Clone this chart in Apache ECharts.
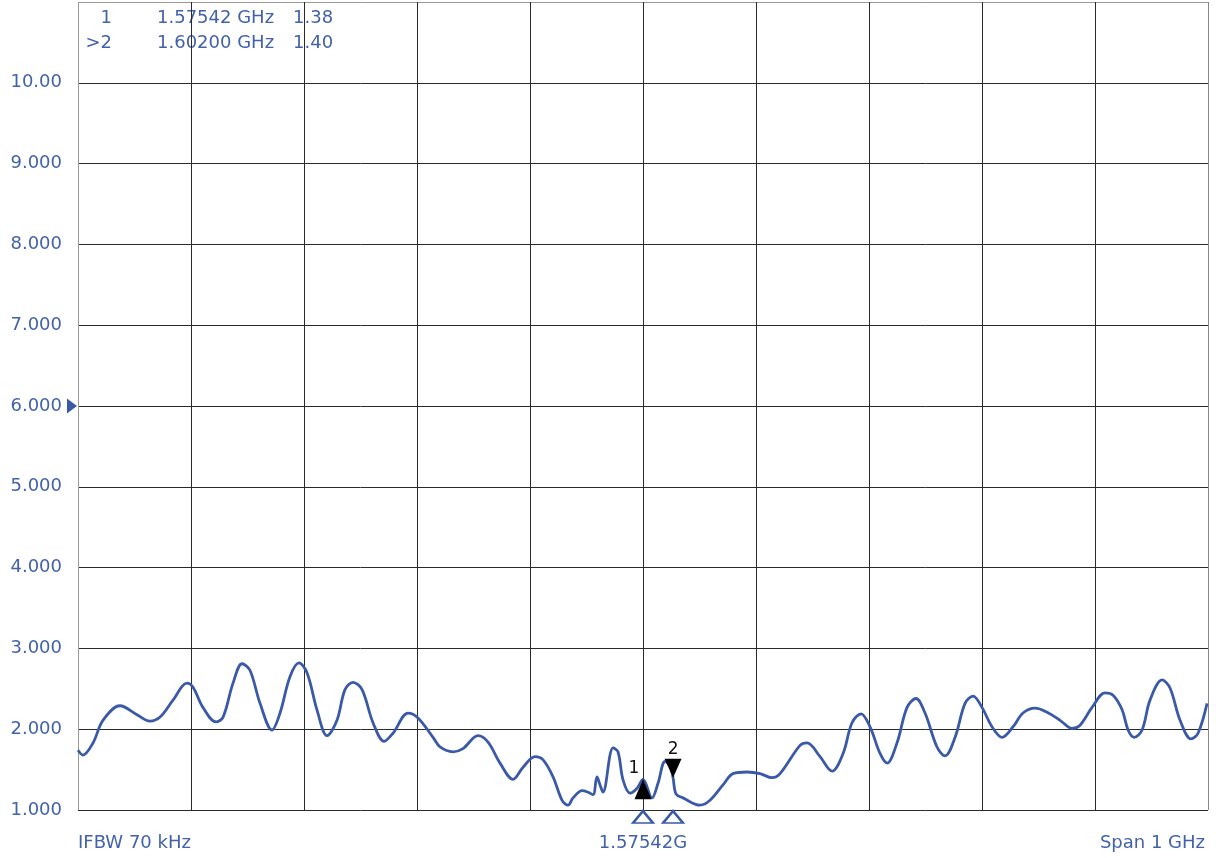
<!DOCTYPE html>
<html>
<head>
<meta charset="utf-8">
<script src="https://cdn.jsdelivr.net/npm/echarts@6/dist/echarts.min.js"></script>
<style>html,body{margin:0;padding:0;background:#fff;}#c{width:1216px;height:858px;}</style>
</head>
<body>
<div id="c"></div>
<script>
// Frequency (MHz) and VSWR values
const freqMHz = [1075.4,1079.8,1088.7,1097.5,1112.6,1127.6,1139.1,1148.0,1159.5,1171.9,1177.2,1186.0,1197.5,1203.8,1212.6,1220.6,1227.6,1236.5,1247.1,1254.2,1263.0,1271.0,1278.1,1286.9,1295.8,1304.6,1311.7,1318.8,1326.8,1336.5,1346.3,1354.2,1367.5,1376.3,1389.6,1395.8,1407.3,1416.1,1429.4,1438.3,1448.9,1460.4,1469.3,1479.9,1487.0,1495.8,1503.8,1509.1,1513.5,1521.5,1526.8,1531.2,1534.7,1537.4,1540.0,1548.9,1553.3,1557.8,1564.0,1570.2,1575.4,1583.4,1588.7,1594.9,1599.3,1602.0,1604.6,1610.8,1625.9,1634.7,1646.2,1655.1,1667.5,1679.0,1689.6,1696.7,1714.4,1720.6,1732.1,1742.7,1752.5,1760.4,1768.4,1776.3,1785.2,1791.4,1800.2,1809.1,1817.0,1825.0,1835.6,1842.7,1851.6,1860.4,1867.5,1875.4,1884.3,1893.2,1902.9,1911.7,1922.4,1933.0,1944.5,1955.1,1962.2,1972.8,1984.3,1991.4,1999.4,2004.7,2010.0,2017.1,2024.1,2034.8,2041.8,2050.7,2060.4,2066.6,2074.6];
const vswr = [1.74,1.68,1.83,2.11,2.29,2.18,2.10,2.15,2.36,2.57,2.52,2.27,2.09,2.15,2.57,2.81,2.73,2.32,1.99,2.20,2.65,2.82,2.70,2.24,1.92,2.11,2.49,2.58,2.49,2.08,1.85,1.95,2.20,2.14,1.90,1.78,1.72,1.76,1.92,1.84,1.58,1.38,1.53,1.66,1.62,1.41,1.12,1.06,1.15,1.24,1.22,1.19,1.41,1.31,1.22,1.77,1.72,1.37,1.21,1.27,1.38,1.15,1.33,1.60,1.55,1.40,1.20,1.15,1.06,1.12,1.31,1.45,1.47,1.45,1.40,1.45,1.80,1.83,1.66,1.48,1.70,2.08,2.19,2.03,1.70,1.58,1.83,2.27,2.38,2.20,1.78,1.67,1.90,2.32,2.41,2.27,2.03,1.90,2.03,2.20,2.26,2.21,2.11,2.01,2.05,2.27,2.45,2.42,2.24,1.99,1.90,1.99,2.36,2.61,2.51,2.11,1.88,1.95,2.32];
const markerFreq = [1575.42, 1602.00];
const markerVal = [1.38, 1.40];
const markerNames = ['1', '2'];
const markerRows = [['1', '1.57542 GHz', '1.38'], ['>2', '1.60200 GHz', '1.40']];
const centerMHz = 1575.42, spanMHz = 1000;
const refLevel = 6;
const yTickLabels = {1:'1.000',2:'2.000',3:'3.000',4:'4.000',5:'5.000',6:'6.000',7:'7.000',8:'8.000',9:'9.000',10:'10.00'};
const bottomLabels = ['IFBW 70 kHz', '1.57542G', 'Span 1 GHz'];

const BLUE = '#3a5aa8';
const TXT = '#4262ab';
const FONT = 'DejaVu Sans';
const F18 = '18px "' + FONT + '"';
const xmin = centerMHz - spanMHz/2, xmax = centerMHz + spanMHz/2;

const chart = echarts.init(document.getElementById('c'));
const gridColors = ['#999','#2a2a2a','#2a2a2a','#2a2a2a','#2a2a2a','#2a2a2a','#2a2a2a','#2a2a2a','#2a2a2a','#2a2a2a','#888'];
const yColors = ['#2a2a2a','#2a2a2a','#2a2a2a','#2a2a2a','#2a2a2a','#2a2a2a','#2a2a2a','#2a2a2a','#2a2a2a','#2a2a2a','#999'];

chart.setOption({
  animation: false,
  grid: {left: 78, right: 8, top: 2, bottom: 48},
  xAxis: [
    {type: 'value', min: xmin, max: xmax, show: false, splitLine: {show: false}},
    {type: 'value', min: 0, max: 1000, interval: 100, position: 'top',
     axisLine: {show: false}, axisLabel: {show: false}, axisTick: {show: false},
     splitLine: {show: true, lineStyle: {color: gridColors, width: 1}}}
  ],
  yAxis: {
    type: 'value', min: 1, max: 11, interval: 1,
    axisLine: {show: false}, axisTick: {show: false},
    axisLabel: {color: TXT, fontFamily: FONT, fontSize: 18, margin: 16,
      formatter: v => yTickLabels[Math.round(v)] || ''},
    splitLine: {show: true, lineStyle: {color: yColors, width: 1}}
  },
  series: [{
    type: 'line', xAxisIndex: 0,
    data: freqMHz.map((f, i) => [f, vswr[i]]),
    showSymbol: false, smooth: 0.35,
    lineStyle: {color: BLUE, width: 2.8},
    markPoint: {
      silent: true, animation: false,
      data: [
        {coord: [markerFreq[0], markerVal[0]], symbol: 'triangle', symbolSize: [17, 20], symbolOffset: [0, 10],
         itemStyle: {color: '#000'},
         label: {show: true, formatter: markerNames[0], position: 'top', distance: 2, offset: [-9, 0], color: '#111', fontFamily: FONT, fontSize: 17}},
        {coord: [markerFreq[1], markerVal[1]], symbol: 'path://M0,0 L16,0 L8,20 Z', symbolSize: [17, 19], symbolOffset: [0, -9.5],
         itemStyle: {color: '#000'},
         label: {show: true, formatter: markerNames[1], position: 'top', distance: 1, offset: [0, 0], color: '#111', fontFamily: FONT, fontSize: 17}},
        {coord: [markerFreq[0], 1], symbol: 'triangle', symbolSize: [20, 12], symbolOffset: [0, 7],
         itemStyle: {color: 'rgba(255,255,255,0)', borderColor: BLUE, borderWidth: 2.2}, label: {show: false}},
        {coord: [markerFreq[1], 1], symbol: 'triangle', symbolSize: [20, 12], symbolOffset: [0, 7],
         itemStyle: {color: 'rgba(255,255,255,0)', borderColor: BLUE, borderWidth: 2.2}, label: {show: false}},
        {coord: [xmin, refLevel], symbol: 'path://M0,0 L10,7 L0,14 Z', symbolSize: [10, 15], symbolOffset: [-6, 0],
         itemStyle: {color: BLUE}, label: {show: false}}
      ]
    }
  }],
  graphic: [
    ...markerRows.flatMap((r, i) => [
      {type: 'text', x: 112, y: 18 + i*25, style: {text: r[0], textAlign: 'right', textVerticalAlign: 'middle', fill: TXT, font: F18}},
      {type: 'text', x: 157, y: 18 + i*25, style: {text: r[1], textAlign: 'left', textVerticalAlign: 'middle', fill: TXT, font: F18}},
      {type: 'text', x: 293, y: 18 + i*25, style: {text: r[2], textAlign: 'left', textVerticalAlign: 'middle', fill: TXT, font: F18}}
    ]),
    {type: 'text', x: 78, y: 843, style: {text: bottomLabels[0], textAlign: 'left', textVerticalAlign: 'middle', fill: TXT, font: F18}},
    {type: 'text', x: 643, y: 843, style: {text: bottomLabels[1], textAlign: 'center', textVerticalAlign: 'middle', fill: TXT, font: F18}},
    {type: 'text', x: 1205, y: 843, style: {text: bottomLabels[2], textAlign: 'right', textVerticalAlign: 'middle', fill: TXT, font: F18}}
  ]
});
</script>
</body>
</html>
